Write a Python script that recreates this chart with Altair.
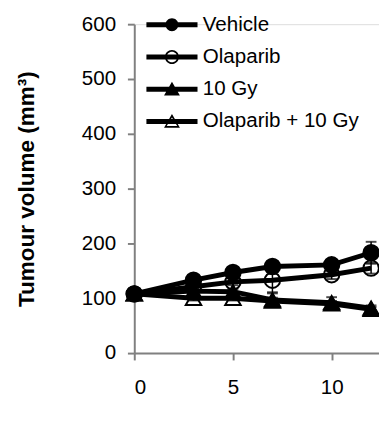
import altair as alt
import pandas as pd

days = [0, 3, 5, 7, 10, 12]
series_names = ["Vehicle", "Olaparib", "10 Gy", "Olaparib + 10 Gy"]
vehicle = [108, 133, 147, 158, 161, 183]
vehicle_err = [5, 6, 8, 8, 8, 20]
olaparib = [108, 121, 130, 133, 143, 155]
olaparib_err = [4, 5, 6, 22, 8, 10]
gy10 = [108, 113, 112, 97, 92, 82]
gy10_err = [4, 5, 5, 12, 10, 5]
combo = [108, 100, 100, 95, 90, 80]
combo_err = [4, 4, 4, 6, 5, 4]

values = [vehicle, olaparib, gy10, combo]
errors = [vehicle_err, olaparib_err, gy10_err, combo_err]
draw_order = [4, 3, 2, 1]

rows = []
for name, vals, errs, o in zip(series_names, values, errors, draw_order):
    for d, v, e in zip(days, vals, errs):
        rows.append({"day": d, "vol": v, "lo": v - e, "hi": v + e,
                     "series": name, "grp": name, "order": o})
df = pd.DataFrame(rows)

FONT = "Liberation Sans"
xs = alt.Scale(domain=[0, 12.4], nice=False)
ys = alt.Scale(domain=[0, 600], nice=False)

x_enc = alt.X("day:Q", scale=xs, axis=alt.Axis(
    values=[0, 5, 10], title=None, grid=False, domainColor="#808080",
    tickColor="#808080", tickSize=7, domainWidth=2, tickWidth=2,
    labelFont=FONT, labelFontSize=21, labelColor="black", labelPadding=17))
y_enc = alt.Y("vol:Q", scale=ys, axis=alt.Axis(
    values=[0, 100, 200, 300, 400, 500, 600], grid=False,
    title="Tumour volume (mm³)", titleFont=FONT, titleFontSize=23,
    titleFontWeight="bold", titleColor="black", titlePadding=44,
    domainColor="#808080", tickColor="#808080", tickSize=7,
    domainWidth=2, tickWidth=2,
    labelFont=FONT, labelFontSize=21, labelColor="black", labelPadding=12))

# legend symbol glyphs (line + marker), unit = sqrt(symbolSize)/2 = 6 px
BAR = "M-4.35,-0.42H4.35V0.42H-4.35Z"
CIRC_F = "M1.1,0A1.1,1.1 0 1,1 -1.1,0A1.1,1.1 0 1,1 1.1,0Z"
CIRC_O = ("M1.2,0A1.2,1.2 0 1,1 -1.2,0A1.2,1.2 0 1,1 1.2,0Z"
          "M0.9,0A0.9,0.9 0 1,0 -0.9,0A0.9,0.9 0 1,0 0.9,0Z")
TRI_F = "M0,-1.3L1.35,1.05H-1.35Z"
TRI_O = TRI_F + "M0,-0.7L-0.9,0.75H0.9Z"
glyphs = [BAR + CIRC_F, BAR + CIRC_O, BAR + TRI_F, BAR + TRI_O]

legend = alt.Legend(
    orient="none", legendX=28, legendY=-10, title=None, padding=0,
    labelFont=FONT, labelFontSize=21, labelColor="black", rowPadding=11,
    symbolSize=144, labelOffset=21, symbolStrokeWidth=0,
    symbolFillColor="black", symbolOpacity=1,
)

base = alt.Chart(df)

lines = base.mark_line(strokeWidth=5, color="black").encode(
    x=x_enc, y=y_enc, detail="grp:N",
)

err_rule = base.mark_rule(color="black", strokeWidth=1.5).encode(
    x="day:Q", y="lo:Q", y2="hi:Q")
cap_lo = base.mark_tick(color="black", thickness=2, size=11,
                        orient="horizontal").encode(x="day:Q", y="lo:Q")
cap_hi = base.mark_tick(color="black", thickness=2, size=11,
                        orient="horizontal").encode(x="day:Q", y="hi:Q")

points = base.mark_point(size=250, filled=False, stroke="black",
                         strokeWidth=2, opacity=1).encode(
    x="day:Q", y="vol:Q",
    shape=alt.Shape("grp:N", scale=alt.Scale(
        domain=series_names,
        range=["circle", "circle", "triangle-up", "triangle-up"]),
        legend=None),
    fill=alt.Fill("grp:N", scale=alt.Scale(
        domain=series_names,
        range=["black", "transparent", "black", "transparent"]),
        legend=None),
    order=alt.Order("order:Q"),
)

legend_layer = base.transform_filter("false").mark_point(
    filled=True, color="black", strokeWidth=0, size=144).encode(
    x="day:Q", y="vol:Q",
    shape=alt.Shape("series:N", scale=alt.Scale(domain=series_names,
                    range=glyphs), legend=legend),
)

chart = alt.layer(lines, err_rule, cap_lo, cap_hi, points,
                  legend_layer).resolve_scale(
    shape="independent", fill="independent"
).properties(
    width=250, height=336,
    autosize=alt.AutoSizeParams(type="none"),
    padding={"left": 129, "top": 12, "right": 0, "bottom": 73},
).configure_view(stroke=None).configure(background="white")

chart.save("out.html", embed_options={"renderer": "svg", "actions": False})
